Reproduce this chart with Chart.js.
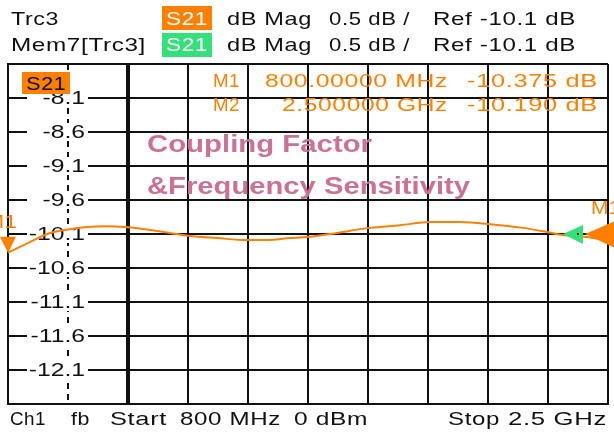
<!DOCTYPE html>
<html><head><meta charset="utf-8">
<script src="https://cdn.jsdelivr.net/npm/chart.js@4"></script>
<style>
html,body{margin:0;padding:0;background:#fff;}
#wrap{position:relative;width:614px;height:435px;overflow:hidden;background:#fff;}
canvas{position:absolute;left:0;top:0;}
.t{position:absolute;white-space:pre;font-family:"Liberation Sans",Arial,sans-serif;font-size:19px;line-height:1;color:#111;transform-origin:0 50%;}
.box{position:absolute;}
</style></head><body>
<div id="wrap"><canvas id="c" width="614" height="435"></canvas></div>
<script>
// ---- data ----
const freqMHz = [800, 862, 919, 976, 1018, 1080, 1140, 1202, 1259, 1316, 1392, 1477, 1534, 1599, 1647, 1712, 1826, 1911, 1996, 2081, 2166, 2259, 2327, 2372, 2430, 2500];
const s21dB   = [-10.375, -10.22, -10.085, -10.03, -10.0, -9.985, -10.0, -10.04, -10.085, -10.13, -10.16, -10.19, -10.19, -10.16, -10.145, -10.10, -10.01, -9.97, -9.925, -9.925, -9.955, -10.01, -10.07, -10.115, -10.14, -10.19];
const yTickValues = [-8.1, -8.6, -9.1, -9.6, -10.1, -10.6, -11.1, -11.6, -12.1];
const yTickLabels = ['-8.1', '-8.6', '-9.1', '-9.6', '-10.1', '-10.6', '-11.1', '-11.6', '-12.1'];
const markerNames = ['M1', 'M2'];
const markerFreq  = [800, 2500];
const markerVal   = [-10.375, -10.190];
const markerFreqText = ['800.00000 MHz', '2.500000 GHz'];
const markerValText  = ['-10.375 dB', '-10.190 dB'];
const refLevel = -10.1;
const startMHz = 800, stopMHz = 2500, divX = 10;
const yMin = -12.6, yMax = -7.6, yDiv = 0.5;

const ORANGE = '#ff8000';
const GREEN = '#33e07a';
const PINK = '#cc7096';
const FONT = '19px "Liberation Sans", Arial, sans-serif';

function stretchedText(ctx, s, x, y, sx, align) {
  const w = ctx.measureText(s).width * sx;
  const left = align === 'right' ? x - w : x;
  ctx.save();
  ctx.translate(left, y);
  ctx.scale(sx, 1);
  ctx.textAlign = 'left';
  ctx.fillText(s, 0, 0);
  ctx.restore();
}

const overlay = {
  id: 'overlay',
  beforeDatasetsDraw(chart) {
    const {ctx, chartArea: a, scales: {x, y}} = chart;
    ctx.save();
    const xd = x.getPixelForValue(startMHz + (stopMHz - startMHz) / divX);
    ctx.strokeStyle = '#111';
    ctx.lineWidth = 2;
    ctx.setLineDash([6, 5]);
    ctx.beginPath();
    ctx.moveTo(xd, a.top);
    ctx.lineTo(xd, a.bottom);
    ctx.stroke();
    ctx.setLineDash([]);
    ctx.font = FONT;
    ctx.textBaseline = 'middle';
    yTickValues.forEach((v, i) => {
      const py = y.getPixelForValue(v);
      ctx.fillStyle = '#fff';
      ctx.fillRect(27, py - 9, 61, 18);
      ctx.fillStyle = '#111';
      stretchedText(ctx, yTickLabels[i], 85, py + 1, 1.3, 'right');
    });
    ctx.restore();
  },
  afterDatasetsDraw(chart) {
    const {ctx, chartArea: a, scales: {x, y}} = chart;
    ctx.save();
    const mx = x.getPixelForValue(markerFreq[0]);
    const my = y.getPixelForValue(markerVal[0]);
    ctx.fillStyle = ORANGE;
    ctx.beginPath();
    ctx.moveTo(mx, my);
    ctx.lineTo(mx - 8, my - 16);
    ctx.lineTo(mx + 8, my - 16);
    ctx.closePath();
    ctx.fill();
    ctx.font = FONT;
    ctx.textBaseline = 'middle';
    stretchedText(ctx, markerNames[0], mx + 9, my - 30, 1.2, 'right');
    const ry = y.getPixelForValue(refLevel);
    ctx.fillStyle = GREEN;
    ctx.beginPath();
    ctx.moveTo(a.right - 45, ry);
    ctx.lineTo(a.right - 25, ry - 9);
    ctx.lineTo(a.right - 25, ry + 10);
    ctx.closePath();
    ctx.fill();
    ctx.fillStyle = ORANGE;
    ctx.beginPath();
    ctx.moveTo(a.right - 23, ry);
    ctx.lineTo(a.right + 7, ry - 13);
    ctx.lineTo(a.right + 7, ry + 14);
    ctx.closePath();
    ctx.fill();
    ctx.fillStyle = '#111';
    ctx.fillRect(a.right - 31, ry - 1, 2, 2);
    ctx.fillStyle = ORANGE;
    stretchedText(ctx, 'M1', a.right - 17, ry - 25, 1.1, 'left');
    ctx.restore();
  }
};

new Chart(document.getElementById('c'), {
  type: 'line',
  data: {
    datasets: [{
      label: 'Trc3 S21',
      data: freqMHz.map((f, i) => ({x: f, y: s21dB[i]})),
      borderColor: ORANGE,
      borderWidth: 2,
      pointRadius: 0,
      cubicInterpolationMode: 'monotone',
      clip: 4
    }]
  },
  options: {
    responsive: false,
    animation: false,
    events: [],
    layout: {padding: {left: 8, right: 6, top: 64, bottom: 31}},
    plugins: {legend: {display: false}, tooltip: {enabled: false}},
    scales: {
      x: {
        type: 'linear', min: startMHz, max: stopMHz,
        ticks: {display: false, stepSize: (stopMHz - startMHz) / divX},
        grid: {
          drawTicks: false,
          color: c => c.index === 1 ? 'rgba(0,0,0,0)' : '#111',
          lineWidth: c => c.index === 2 ? 4 : 2
        },
        border: {color: '#111', width: 2}
      },
      y: {
        min: yMin, max: yMax,
        ticks: {display: false, stepSize: yDiv},
        grid: {drawTicks: false, color: '#111', lineWidth: 2},
        border: {color: '#111', width: 2}
      }
    }
  },
  plugins: [overlay]
});

// ---- text overlays ----
const wrap = document.getElementById('wrap');
function box(l, t, w, h, color) {
  const d = document.createElement('div');
  d.className = 'box';
  Object.assign(d.style, {left: l + 'px', top: t + 'px', width: w + 'px', height: h + 'px', background: color});
  wrap.appendChild(d);
}
function txt(s, left, right, cy, o = {}) {
  const el = document.createElement('div');
  el.className = 't';
  el.textContent = s;
  const size = o.size || 19;
  el.style.fontSize = size + 'px';
  el.style.letterSpacing = (o.ls != null ? o.ls : 0.5) + 'px';
  if (o.bold) el.style.fontWeight = 'bold';
  if (o.color) el.style.color = o.color;
  wrap.appendChild(el);
  const w = el.getBoundingClientRect().width;
  el.style.transform = 'scaleX(' + ((right - left) / w) + ')';
  el.style.left = left + 'px';
  el.style.top = (cy - 0.49 * size) + 'px';
}
// header
box(162, 6, 50, 24, ORANGE);
box(162, 33, 50, 24, GREEN);
txt('Trc3', 11, 59, 18);
txt('S21', 166, 208, 18, {color: '#fff'});
txt('dB Mag', 227, 312, 18);
txt('0.5 dB /', 329, 410, 18);
txt('Ref -10.1 dB', 433, 576, 18);
txt('Mem7[Trc3]', 11, 146, 44);
txt('S21', 166, 208, 44, {color: '#fff'});
txt('dB Mag', 227, 312, 44);
txt('0.5 dB /', 329, 410, 44);
txt('Ref -10.1 dB', 433, 576, 44);
// trace label in diagram
box(22, 72, 48, 22, ORANGE);
txt('S21', 26, 66, 83);
// marker readout
[80, 104].forEach((cy, i) => {
  txt(markerNames[i], 213, 240, cy, {color: ORANGE});
  txt(markerFreqText[i], i === 0 ? 265 : 282, 448, cy, {color: ORANGE});
  txt(markerValText[i], 467, 598, cy, {color: ORANGE});
});
// title annotation
txt('Coupling Factor', 147, 372, 144, {bold: true, size: 24, color: PINK, ls: 0});
txt('&Frequency Sensitivity', 147, 470, 186, {bold: true, size: 24, color: PINK, ls: 0});
// footer
txt('Ch1', 10, 46, 418);
txt('fb', 71, 90, 418);
txt('Start', 110, 167, 418);
txt('800 MHz', 180, 281, 418);
txt('0 dBm', 294, 368, 418);
txt('Stop', 448, 500, 418);
txt('2.5 GHz', 508, 607, 418);
</script>
</body></html>
